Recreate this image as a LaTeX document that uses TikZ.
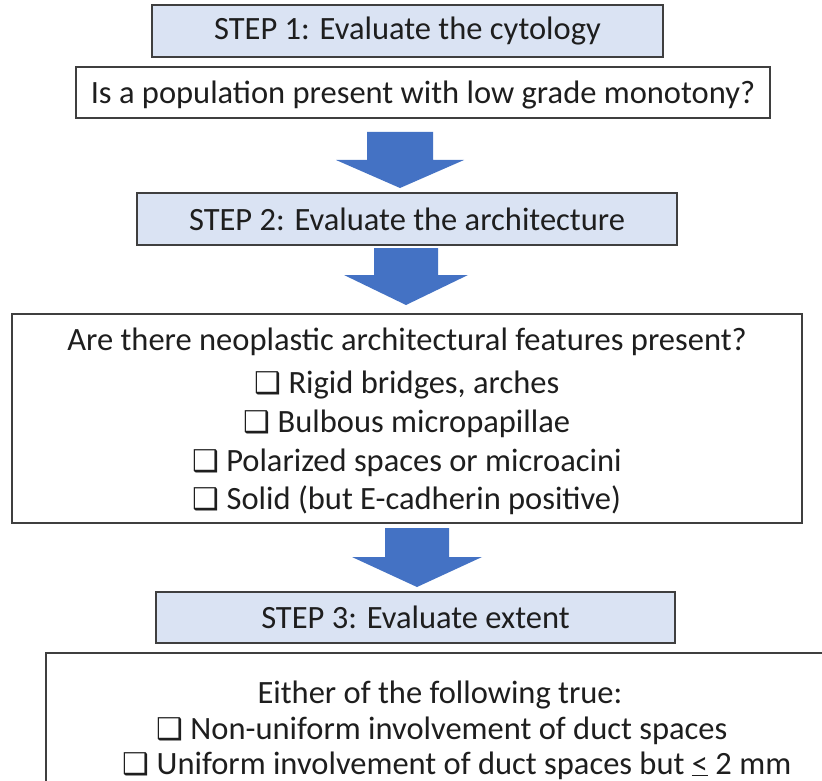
\documentclass[tikz,border=0pt]{standalone}
\usepackage{fontspec}
\setmainfont{Carlito}
\newfontfamily\dejavu{DejaVu Sans}
\usetikzlibrary{calc}
\definecolor{stepfill}{HTML}{DAE3F3}
\definecolor{boxline}{HTML}{3F3F3F}
\definecolor{arrowblue}{HTML}{4472C4}
\definecolor{txt}{HTML}{1E1E1E}
\newcommand{\cbx}{{\dejavu\fontsize{30}{30}\selectfont ❑}\hspace{7pt}}
\begin{document}
\begin{tikzpicture}[x=1pt,y=-1pt,
  stepbox/.style={draw=boxline, line width=1.4pt, fill=stepfill, inner sep=0pt, text=txt, font=\fontsize{32.5}{38}\selectfont},
  textbox/.style={draw=boxline, line width=1.4pt, fill=white, inner sep=0pt},
  linetext/.style={anchor=base, inner sep=0pt, text=txt, font=\fontsize{32.5}{38}\selectfont},
  blockarrow/.style={fill=arrowblue, draw=none}]
\useasboundingbox (0,0) rectangle (822,781);
\clip (0,0) rectangle (822,781);
\fill[white] (0,0) rectangle (822,781);

\node[stepbox, minimum width=511pt, minimum height=52pt] (s1) at (407.5,31) {STEP 1: Evaluate the cytology};
\node[textbox, minimum width=694pt, minimum height=51pt] (q1) at (423,92.5) {};
\node[linetext] (q1t) at (423,104) {Is a population present with low grade monotony?};
\node[stepbox, minimum width=540pt, minimum height=52pt] (s2) at (407,219) {STEP 2: Evaluate the architecture};
\node[textbox, minimum width=790pt, minimum height=209pt] (q2) at (407,418.5) {};
\node[linetext] (q2a) at (407,350) {Are there neoplastic architectural features present?};
\node[linetext] (q2b) at (407,393) {\cbx Rigid bridges, arches};
\node[linetext] (q2c) at (407,432) {\cbx Bulbous micropapillae};
\node[linetext] (q2d) at (407,471) {\cbx Polarized spaces or microacini};
\node[linetext] (q2e) at (407,509) {\cbx Solid (but E-cadherin positive)};
\node[stepbox, minimum width=519pt, minimum height=51pt] (s3) at (415.5,617.5) {STEP 3: Evaluate extent};
\node[textbox, minimum width=792pt, minimum height=164pt] (q3) at (442,735) {};
\node[linetext] (q3a) at (440,703) {Either of the following true:};
\node[linetext] (q3b) at (442,739) {\cbx Non-uniform involvement of duct spaces};
\node[linetext] (q3c) at (457,774) {\cbx Uniform involvement of duct spaces but \underline{<} 2 mm};

% block arrows
\coordinate (a1t) at (400,132); \coordinate (a1h) at (400,188);
\fill[blockarrow] ($(a1t)+(-33,0)$) -- ($(a1t)+(33,0)$) -- ($(a1t)+(33,28)$) -- ($(a1t)+(64,28)$) -- (a1h) -- ($(a1t)+(-64,28)$) -- ($(a1t)+(-33,28)$) -- cycle;
\coordinate (a2t) at (406,248); \coordinate (a2h) at (406,305);
\fill[blockarrow] ($(a2t)+(-32,0)$) -- ($(a2t)+(32,0)$) -- ($(a2t)+(32,27)$) -- ($(a2t)+(62,27)$) -- (a2h) -- ($(a2t)+(-62,27)$) -- ($(a2t)+(-32,27)$) -- cycle;
\coordinate (a3t) at (417,528); \coordinate (a3h) at (417,587);
\fill[blockarrow] ($(a3t)+(-32,0)$) -- ($(a3t)+(32,0)$) -- ($(a3t)+(32,29)$) -- ($(a3t)+(65,29)$) -- (a3h) -- ($(a3t)+(-65,29)$) -- ($(a3t)+(-32,29)$) -- cycle;
\end{tikzpicture}
\end{document}
